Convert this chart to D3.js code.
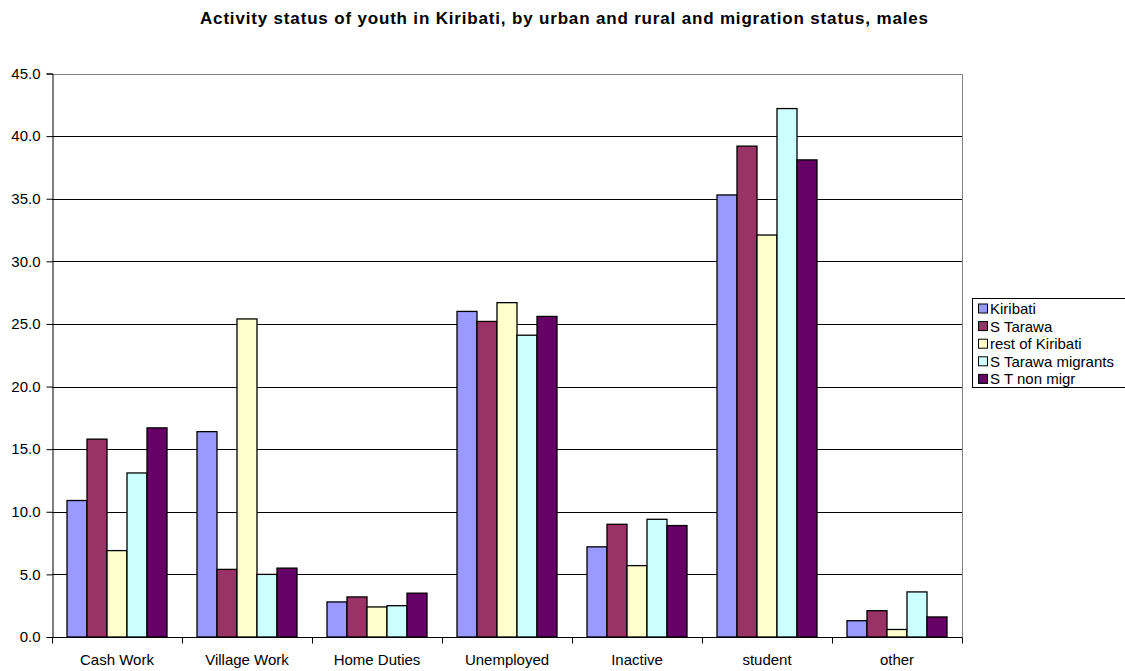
<!DOCTYPE html>
<html>
<head>
<meta charset="utf-8">
<script src="https://cdn.jsdelivr.net/npm/d3@7"></script>
<style>
  html, body { margin: 0; padding: 0; background: #fff; }
  svg { display: block; font-family: "Liberation Sans", Arial, sans-serif; }
</style>
</head>
<body>
<svg id="chart" width="1125" height="671"></svg>
<script>
// Activity categories along the x axis
const categories = ["Cash Work", "Village Work", "Home Duties", "Unemployed", "Inactive", "student", "other"];

// Population groups (series)
const seriesNames = ["Kiribati", "S Tarawa", "rest of Kiribati", "S Tarawa migrants", "S T non migr"];
const seriesColors = ["#9999FF", "#993366", "#FFFFCC", "#CCFFFF", "#660066"];

// Percent of male youth in each activity, one array per group
const kiribati      = [10.9, 16.4, 2.8, 26.0, 7.2, 35.3, 1.3];
const sTarawa       = [15.8, 5.4, 3.2, 25.2, 9.0, 39.2, 2.1];
const restKiribati  = [6.9, 25.4, 2.4, 26.7, 5.7, 32.1, 0.6];
const stMigrants    = [13.1, 5.0, 2.5, 24.1, 9.4, 42.2, 3.6];
const stNonMigr     = [16.7, 5.5, 3.5, 25.6, 8.9, 38.1, 1.6];

const yTicks = [0, 5, 10, 15, 20, 25, 30, 35, 40, 45];

const seriesValues = [kiribati, sTarawa, restKiribati, stMigrants, stNonMigr];

const svg = d3.select("#chart");
const plot = { left: 52, right: 962, top: 73.5, bottom: 637 };

const x = d3.scaleBand().domain(categories).range([plot.left, plot.right]).padding(0);
const inner = d3.scaleBand().domain(seriesNames)
  .range([x.bandwidth() * 15 / 130, x.bandwidth() * 115 / 130]).padding(0);
const y = d3.scaleLinear().domain([0, 45]).range([plot.bottom, plot.top]);

// Title
svg.append("text")
  .attr("x", 564).attr("y", 24)
  .attr("text-anchor", "middle")
  .attr("font-size", 17).attr("font-weight", "bold")
  .attr("textLength", 728).attr("lengthAdjust", "spacing")
  .text("Activity status of youth in Kiribati, by urban and rural and migration status, males");

// Horizontal gridlines
svg.append("g")
  .selectAll("line")
  .data(yTicks.filter(t => t > 0 && t < 45))
  .join("line")
  .attr("x1", plot.left).attr("x2", plot.right)
  .attr("y1", d => Math.round(y(d)) + 0.5).attr("y2", d => Math.round(y(d)) + 0.5)
  .attr("stroke", "#000").attr("stroke-width", 1);

// Plot area border (top and right)
svg.append("path")
  .attr("d", `M${plot.left},${Math.round(plot.top) + 0.5}H${plot.right + 0.5}V${plot.bottom}`)
  .attr("fill", "none").attr("stroke", "#808080").attr("stroke-width", 1);

// Bars
const groups = svg.append("g")
  .selectAll("g")
  .data(seriesNames)
  .join("g")
  .attr("fill", (d, i) => seriesColors[i]);

groups.selectAll("rect")
  .data((name, i) => categories.map((c, j) => ({ name, c, v: seriesValues[i][j] })))
  .join("rect")
  .attr("x", d => x(d.c) + inner(d.name))
  .attr("y", d => y(d.v))
  .attr("width", inner.bandwidth())
  .attr("height", d => y(0) - y(d.v))
  .attr("stroke", "#000").attr("stroke-width", 1.3);

// Y axis
const yAxis = d3.axisLeft(y).tickValues(yTicks).tickFormat(d3.format(".1f")).tickSize(6).tickPadding(6);
const gy = svg.append("g").attr("transform", `translate(${plot.left + 0.5},0)`).call(yAxis);
gy.select(".domain").attr("stroke", "#000");
gy.selectAll(".tick line").attr("stroke", "#000");
gy.selectAll(".tick text").attr("font-size", 15).attr("fill", "#000")
  .attr("font-family", "Liberation Sans, Arial, sans-serif");

// X axis: ticks on category boundaries
const gx = svg.append("g").attr("transform", `translate(0,${plot.bottom + 0.5})`);
gx.append("line").attr("x1", plot.left).attr("x2", plot.right + 0.5).attr("stroke", "#000");
const bounds = categories.map(c => x(c)).concat([plot.right]);
gx.selectAll("line.tk").data(bounds).join("line").attr("class", "tk")
  .attr("x1", d => Math.round(d) + 0.5).attr("x2", d => Math.round(d) + 0.5)
  .attr("y1", 0).attr("y2", 6).attr("stroke", "#000");
gx.selectAll("text").data(categories).join("text")
  .attr("x", d => x(d) + x.bandwidth() / 2)
  .attr("y", 27)
  .attr("text-anchor", "middle")
  .attr("font-size", 15)
  .text(d => d);

// Legend
const lg = svg.append("g").attr("transform", "translate(972,298)");
lg.append("rect").attr("x", 0.5).attr("y", 0.5).attr("width", 160).attr("height", 89)
  .attr("fill", "#fff").attr("stroke", "#000");
const items = lg.selectAll("g.item").data(seriesNames).join("g").attr("class", "item")
  .attr("transform", (d, i) => `translate(0,${10.5 + i * 17.6})`);
items.append("rect").attr("x", 6.5).attr("y", -4.5).attr("width", 9).attr("height", 9)
  .attr("fill", (d, i) => seriesColors[i]).attr("stroke", "#000");
items.append("text").attr("x", 18).attr("y", 5.5).attr("font-size", 15).text(d => d);
</script>
</body>
</html>
